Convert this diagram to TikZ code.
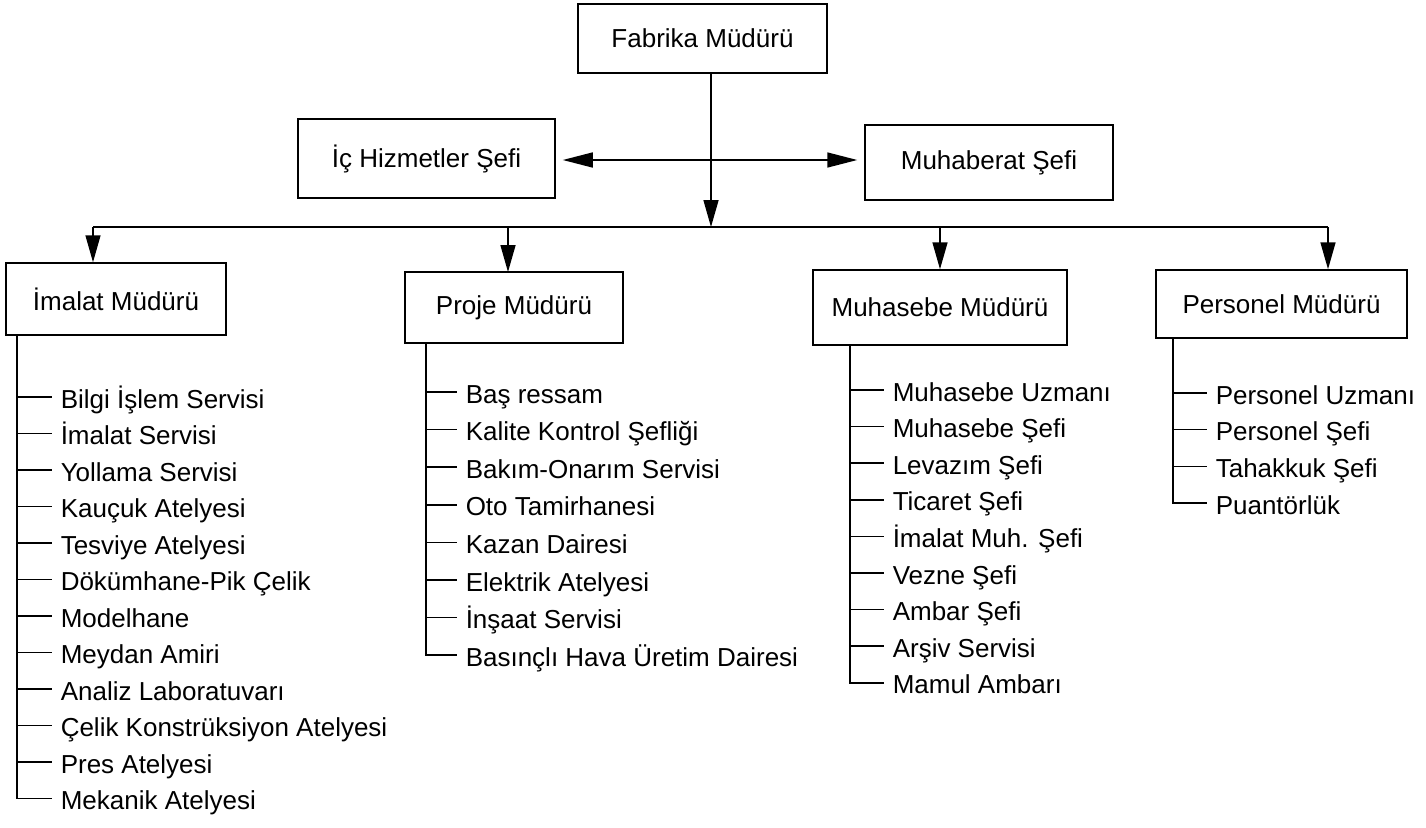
\documentclass[tikz,border=0pt]{standalone}
\usepackage{fontspec}
\setmainfont{Liberation Sans}
\usepackage{tikz}
\usetikzlibrary{arrows.meta}

\begin{document}
\begin{tikzpicture}[x=1pt,y=1pt,yscale=-1,
  line width=1.5pt,
  every node/.style={font=\fontsize{26}{30}\selectfont},
  box/.style={draw,rectangle,inner sep=0pt},
  item/.style={anchor=west,inner xsep=8pt,inner ysep=0pt,text height=22pt,text depth=0pt},
  down/.style={-{Triangle[length=27pt,width=15pt]}},
  both/.style={{Triangle[length=30pt,width=15pt]}-{Triangle[length=30pt,width=15pt]},shorten <=7pt,shorten >=7pt}]
\useasboundingbox (0,0) rectangle (1426,827);

% Boxes
\node[box,minimum width=249pt,minimum height=69pt] (fabrika) at (702.5,38.5) {Fabrika Müdürü};
\node[box,minimum width=257pt,minimum height=79pt] (ic) at (426.5,158.5) {İç Hizmetler Şefi};
\node[box,minimum width=248pt,minimum height=75pt] (muhab) at (989,162.5) {Muhaberat Şefi};
\node[box,minimum width=220pt,minimum height=72pt] (imalat) at (116,299) {İmalat Müdürü};
\node[box,minimum width=218pt,minimum height=71pt] (proje) at (514,307.5) {Proje Müdürü};
\node[box,minimum width=254pt,minimum height=75pt] (muhasebe) at (940,307.5) {Muhasebe Müdürü};
\node[box,minimum width=251pt,minimum height=68pt] (personel) at (1281.5,304) {Personel Müdürü};

% bus and arrows
\coordinate (mid) at (711,227);
\coordinate (ha) at (711,160);
\coordinate (busl) at (93,227);
\coordinate (busr) at (1328,227);
\draw[down] (mid |- fabrika.south) -- (mid);
\draw[both] (ic.east |- ha) -- (muhab.west |- ha);
\draw (busl) -- (busr);
\draw[down] (busl) -- (busl |- imalat.north);
\draw[down] (508,227) -- (508,272);
\draw[down] (muhasebe.north |- busl) -- (muhasebe.north);
\draw[down] (busr) -- (busr |- personel.north);

% Imalat list
\coordinate (imt) at (17,335);
\node[item] (im1) at (52,397) {Bilgi İşlem Servisi};
\node[item] (im2) at (52,433.5) {İmalat Servisi};
\node[item] (im3) at (52,470) {Yollama Servisi};
\node[item] (im4) at (52,506.5) {Kauçuk Atelyesi};
\node[item] (im5) at (52,543) {Tesviye Atelyesi};
\node[item] (im6) at (52,579.5) {Dökümhane-Pik Çelik};
\node[item] (im7) at (52,616) {Modelhane};
\node[item] (im8) at (52,652.5) {Meydan Amiri};
\node[item] (im9) at (52,689) {Analiz Laboratuvarı};
\node[item] (im10) at (52,725.5) {Çelik Konstrüksiyon Atelyesi};
\node[item] (im11) at (52,762) {Pres Atelyesi};
\node[item] (im12) at (52,798.5) {Mekanik Atelyesi};
\draw (imt) |- (im12.west);
\foreach \n in {1,...,11} \draw (im\n.west -| imt) -- (im\n.west);

% Proje list
\coordinate (prt) at (426,343);
\node[item] (pr1) at (457,392) {Baş ressam};
\node[item] (pr2) at (457,429.6) {Kalite Kontrol Şefliği};
\node[item] (pr3) at (457,467.2) {Bakım-Onarım Servisi};
\node[item] (pr4) at (457,504.8) {Oto Tamirhanesi};
\node[item] (pr5) at (457,542.4) {Kazan Dairesi};
\node[item] (pr6) at (457,580) {Elektrik Atelyesi};
\node[item] (pr7) at (457,617.6) {İnşaat Servisi};
\node[item] (pr8) at (457,655.2) {Basınçlı Hava Üretim Dairesi};
\draw (prt) |- (pr8.west);
\foreach \n in {1,...,7} \draw (pr\n.west -| prt) -- (pr\n.west);

% Muhasebe list
\coordinate (mht) at (850,345);
\node[item] (mh1) at (884,390) {Muhasebe Uzmanı};
\node[item] (mh2) at (884,426.6) {Muhasebe Şefi};
\node[item] (mh3) at (884,463.2) {Levazım Şefi};
\node[item] (mh4) at (884,499.8) {Ticaret Şefi};
\node[item] (mh5) at (884,536.4) {İmalat Muh. Şefi};
\node[item] (mh6) at (884,573) {Vezne Şefi};
\node[item] (mh7) at (884,609.6) {Ambar Şefi};
\node[item] (mh8) at (884,646.2) {Arşiv Servisi};
\node[item] (mh9) at (884,682.8) {Mamul Ambarı};
\draw (mht) |- (mh9.west);
\foreach \n in {1,...,8} \draw (mh\n.west -| mht) -- (mh\n.west);

% Personel list
\coordinate (pst) at (1173,338);
\node[item] (ps1) at (1207,393) {Personel Uzmanı};
\node[item] (ps2) at (1207,429.7) {Personel Şefi};
\node[item] (ps3) at (1207,466.4) {Tahakkuk Şefi};
\node[item] (ps4) at (1207,503.1) {Puantörlük};
\draw (pst) |- (ps4.west);
\foreach \n in {1,...,3} \draw (ps\n.west -| pst) -- (ps\n.west);

\end{tikzpicture}
\end{document}
